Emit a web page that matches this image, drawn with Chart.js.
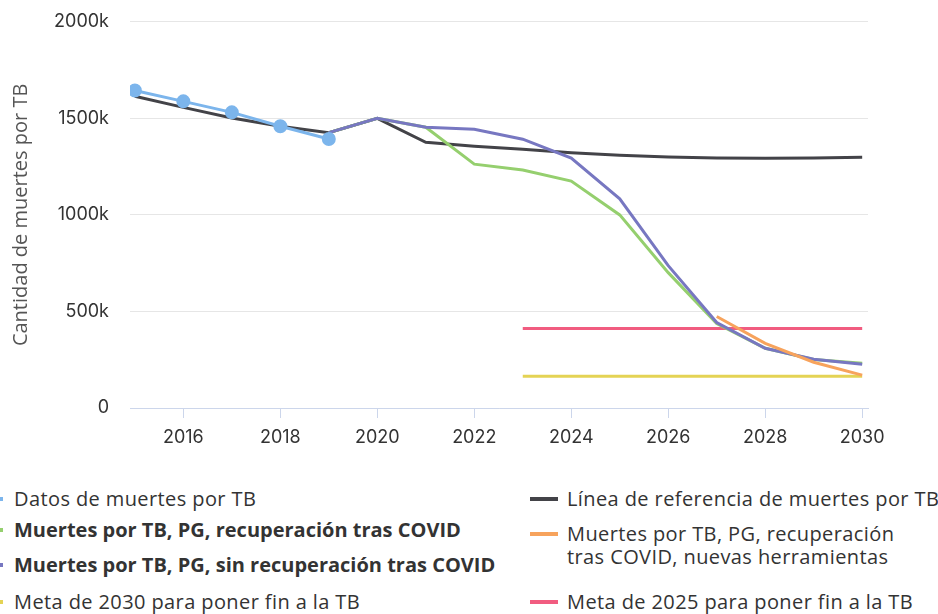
<!DOCTYPE html>
<html>
<head>
<meta charset="utf-8">
<script src="https://cdn.jsdelivr.net/npm/chart.js@4"></script>
<style>
  html, body { margin: 0; padding: 0; background: #fff; overflow: hidden; }
  #wrap { position: relative; width: 938px; height: 614px; }
  #box { position: absolute; left: 0; top: -10px; width: 938px; height: 470px; }
  .leg { position: absolute; font-family: "Open Sans", sans-serif; font-size: 20px; color: #333; line-height: 23px; white-space: nowrap; letter-spacing: 0.4px; }
  .leg b { font-weight: 700; letter-spacing: 0; }
  .mk { position: absolute; height: 4px; }
</style>
</head>
<body>
<div id="wrap">
  <div id="box"><canvas id="myChart"></canvas></div>
  <div id="legend"></div>
</div>
<script>
const ctx = document.getElementById("myChart");

// values in thousands of deaths
const yearsObs = [2015, 2016, 2017, 2018, 2019];
const obsDeaths = [1644, 1588, 1531, 1459, 1393];

const yearsAll = [2015, 2016, 2017, 2018, 2019, 2020, 2021, 2022, 2023, 2024, 2025, 2026, 2027, 2028, 2029, 2030];
const baseline = [1614, 1557, 1502, 1459, 1426, 1500, 1376, 1356, 1340, 1322, 1309, 1300, 1295, 1294, 1295, 1299];

const yearsProj = [2019, 2020, 2021, 2022, 2023, 2024, 2025, 2026, 2027, 2028, 2029, 2030];
const noRecovery = [1426, 1500, 1454, 1443, 1392, 1294, 1083, 737, 443, 309, 253, 227];
const recovery = [1426, 1500, 1454, 1263, 1232, 1175, 1000, 701, 438, 309, 251, 232];

const yearsNewTools = [2027, 2028, 2029, 2030];
const newTools = [474, 335, 237, 170];

const yearsTargets = [2023, 2024, 2025, 2026, 2027, 2028, 2029, 2030];
const target2025 = [412, 412, 412, 412, 412, 412, 412, 412];
const target2030 = [165, 165, 165, 165, 165, 165, 165, 165];

const xTicks = [2016, 2018, 2020, 2022, 2024, 2026, 2028, 2030];

const labels = [
  "Datos de muertes por TB",
  "Línea de referencia de muertes por TB",
  "Muertes por TB, PG, recuperación tras COVID",
  "Muertes por TB, PG, recuperación<br>tras COVID, nuevas herramientas",
  "Muertes por TB, PG, sin recuperación tras COVID",
  "Meta de 2030 para poner fin a la TB",
  "Meta de 2025 para poner fin a la TB",
];
const colors = ["#7cb5ec", "#434348", "#95cf6e", "#f7a35c", "#7777c1", "#e4d354", "#f15c80"];

function pts(xs, ys) {
  return xs.map(function (x, i) { return { x: x, y: ys[i] }; });
}

function line(label, xs, ys, color, order) {
  return {
    label: label,
    data: pts(xs, ys),
    borderColor: color,
    backgroundColor: color,
    borderWidth: 3,
    pointRadius: 0,
    tension: 0,
    order: order,
  };
}

const datasets = [
  line(labels[5], yearsTargets, target2030, colors[5], 7),
  line(labels[6], yearsTargets, target2025, colors[6], 6),
  line(labels[1], yearsAll, baseline, colors[1], 5),
  line(labels[2], yearsProj, recovery, colors[2], 4),
  line(labels[4], yearsProj, noRecovery, colors[4], 3),
  line(labels[3], yearsNewTools, newTools, colors[3], 2),
  Object.assign(line(labels[0], yearsObs, obsDeaths, colors[0], 1), {
    pointRadius: 5.5,
    pointHoverRadius: 6,
  }),
];

new Chart(ctx, {
  type: "line",
  data: { datasets: datasets },
  options: {
    responsive: true,
    maintainAspectRatio: false,
    animation: false,
    layout: { padding: { top: 11, right: 70, left: 0, bottom: 0 } },
    plugins: { legend: { display: false }, tooltip: { enabled: false } },
    scales: {
      x: {
        type: "linear",
        min: 2014.9,
        max: 2030.12,
        afterBuildTicks: function (scale) {
          scale.ticks = xTicks.map(function (v) { return { value: v }; });
        },
        afterFit: function (scale) { scale.height = 52; },
        grid: { drawOnChartArea: false, drawTicks: true, tickLength: 10, color: "#ccd6eb" },
        border: { color: "#ccd6eb", width: 1 },
        ticks: {
          padding: 9,
          color: "#333",
          font: { family: "Inter", size: 18 },
          maxRotation: 0,
          callback: function (v) { return String(v); },
        },
      },
      y: {
        min: 0,
        max: 2000,
        afterFit: function (scale) { scale.width = 130; },
        grid: { color: "#e6e6e6", drawTicks: false },
        border: { display: false },
        ticks: {
          stepSize: 500,
          padding: 21,
          color: "#333",
          font: { family: "Inter", size: 18 },
          callback: function (v) { return v === 0 ? "0" : v + "k"; },
        },
        title: {
          display: true,
          text: "Cantidad de muertes por TB",
          color: "#555",
          font: { family: "Open Sans", size: 20 },
          padding: { top: 9, bottom: 0 },
        },
      },
    },
  },
});

// html legend, two columns
const legendItems = [
  { i: 0, left: 14, top: 487, bold: false },
  { i: 2, left: 14, top: 518, bold: true },
  { i: 4, left: 14, top: 553, bold: true },
  { i: 5, left: 14, top: 590, bold: false },
  { i: 1, left: 567, top: 487, bold: false },
  { i: 3, left: 567, top: 522, bold: false },
  { i: 6, left: 567, top: 590, bold: false },
];
const legendDiv = document.getElementById("legend");
legendItems.forEach(function (it) {
  const t = document.createElement("div");
  t.className = "leg";
  t.style.left = it.left + "px";
  t.style.top = it.top + "px";
  t.innerHTML = it.bold ? "<b>" + labels[it.i] + "</b>" : labels[it.i];
  legendDiv.appendChild(t);
  const m = document.createElement("div");
  m.className = "mk";
  m.style.background = colors[it.i];
  m.style.width = "28px";
  m.style.left = (it.left - (it.left > 100 ? 37 : 39)) + "px";
  m.style.top = (it.top + 10) + "px";
  legendDiv.appendChild(m);
});
</script>
</body>
</html>
